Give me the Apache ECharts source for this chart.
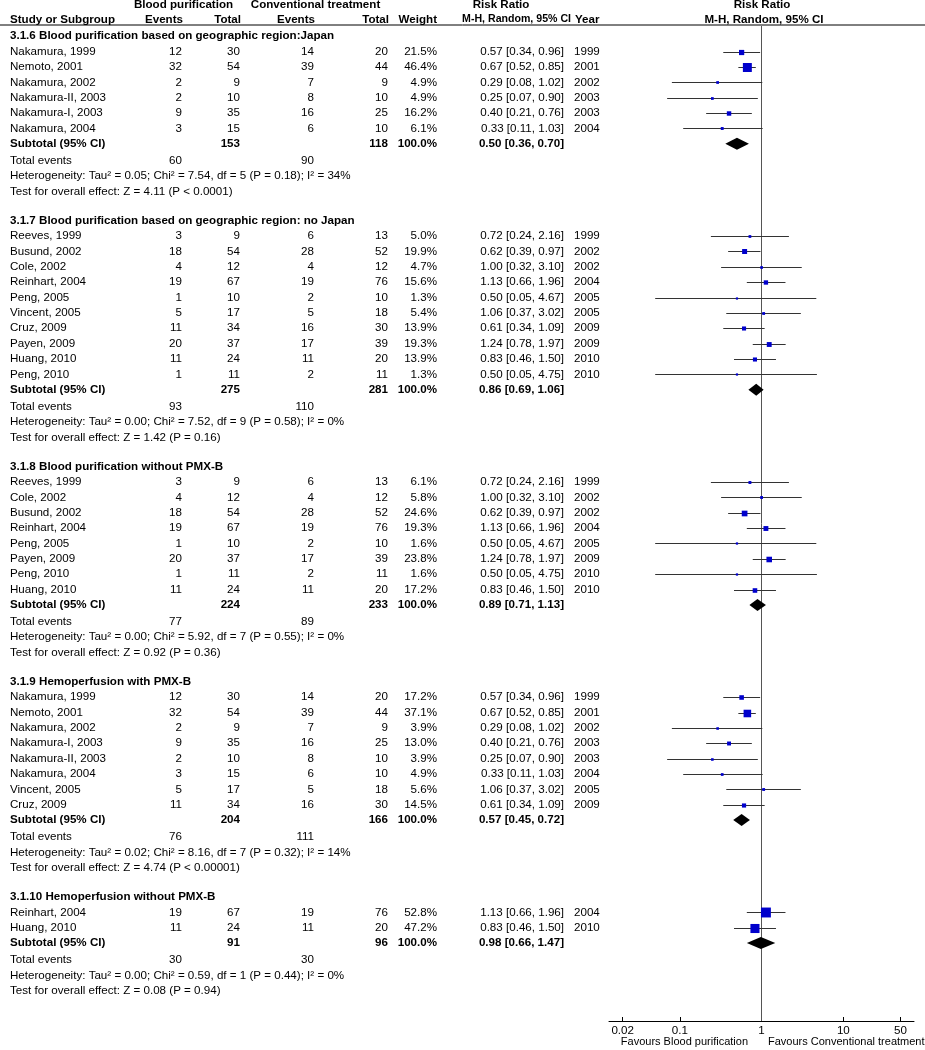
<!DOCTYPE html>
<html><head><meta charset="utf-8">
<script src="https://cdn.jsdelivr.net/npm/echarts@6/dist/echarts.min.js"></script>
<style>html,body{margin:0;padding:0;background:#fff}#c{width:925px;height:1050px}</style>
</head><body><div id="c"></div>
<script>
// ---------------- DATA ----------------
const groupTitles = [
  '3.1.6 Blood purification based on geographic region:Japan',
  '3.1.7 Blood purification based on geographic region: no Japan',
  '3.1.8 Blood purification without PMX-B',
  '3.1.9 Hemoperfusion with PMX-B',
  '3.1.10 Hemoperfusion without PMX-B'
];
const studyGroup = [0,0,0,0,0,0, 1,1,1,1,1,1,1,1,1,1, 2,2,2,2,2,2,2,2, 3,3,3,3,3,3,3,3, 4,4];
const studyNames = [
  'Nakamura, 1999','Nemoto, 2001','Nakamura, 2002','Nakamura-II, 2003','Nakamura-I, 2003','Nakamura, 2004',
  'Reeves, 1999','Busund, 2002','Cole, 2002','Reinhart, 2004','Peng, 2005','Vincent, 2005','Cruz, 2009','Payen, 2009','Huang, 2010','Peng, 2010',
  'Reeves, 1999','Cole, 2002','Busund, 2002','Reinhart, 2004','Peng, 2005','Payen, 2009','Peng, 2010','Huang, 2010',
  'Nakamura, 1999','Nemoto, 2001','Nakamura, 2002','Nakamura-I, 2003','Nakamura-II, 2003','Nakamura, 2004','Vincent, 2005','Cruz, 2009',
  'Reinhart, 2004','Huang, 2010'
];
const bpEvents = [12,32,2,2,9,3, 3,18,4,19,1,5,11,20,11,1, 3,4,18,19,1,20,1,11, 12,32,2,9,2,3,5,11, 19,11];
const bpTotal  = [30,54,9,10,35,15, 9,54,12,67,10,17,34,37,24,11, 9,12,54,67,10,37,11,24, 30,54,9,35,10,15,17,34, 67,24];
const ctEvents = [14,39,7,8,16,6, 6,28,4,19,2,5,16,17,11,2, 6,4,28,19,2,17,2,11, 14,39,7,16,8,6,5,16, 19,11];
const ctTotal  = [20,44,9,10,25,10, 13,52,12,76,10,18,30,39,20,11, 13,12,52,76,10,39,11,20, 20,44,9,25,10,10,18,30, 76,20];
const weights  = [21.5,46.4,4.9,4.9,16.2,6.1, 5.0,19.9,4.7,15.6,1.3,5.4,13.9,19.3,13.9,1.3, 6.1,5.8,24.6,19.3,1.6,23.8,1.6,17.2, 17.2,37.1,3.9,13.0,3.9,4.9,5.6,14.5, 52.8,47.2];
const riskRatio= [0.57,0.67,0.29,0.25,0.40,0.33, 0.72,0.62,1.00,1.13,0.50,1.06,0.61,1.24,0.83,0.50, 0.72,1.00,0.62,1.13,0.50,1.24,0.50,0.83, 0.57,0.67,0.29,0.40,0.25,0.33,1.06,0.61, 1.13,0.83];
const ciLow    = [0.34,0.52,0.08,0.07,0.21,0.11, 0.24,0.39,0.32,0.66,0.05,0.37,0.34,0.78,0.46,0.05, 0.24,0.32,0.39,0.66,0.05,0.78,0.05,0.46, 0.34,0.52,0.08,0.21,0.07,0.11,0.37,0.34, 0.66,0.46];
const ciHigh   = [0.96,0.85,1.02,0.90,0.76,1.03, 2.16,0.97,3.10,1.96,4.67,3.02,1.09,1.97,1.50,4.75, 2.16,3.10,0.97,1.96,4.67,1.97,4.75,1.50, 0.96,0.85,1.02,0.76,0.90,1.03,3.02,1.09, 1.96,1.50];
const years    = [1999,2001,2002,2003,2003,2004, 1999,2002,2002,2004,2005,2005,2009,2009,2010,2010, 1999,2002,2002,2004,2005,2009,2010,2010, 1999,2001,2002,2003,2003,2004,2005,2009, 2004,2010];

const subBpTotal = [153,275,224,204,91];
const subCtTotal = [118,281,233,166,96];
const subRR   = [0.50,0.86,0.89,0.57,0.98];
const subLow  = [0.36,0.69,0.71,0.45,0.66];
const subHigh = [0.70,1.06,1.13,0.72,1.47];
const totalEventsBp = [60,93,77,76,30];
const totalEventsCt = [90,110,89,111,30];
const heterogeneity = [
  'Heterogeneity: Tau² = 0.05; Chi² = 7.54, df = 5 (P = 0.18); I² = 34%',
  'Heterogeneity: Tau² = 0.00; Chi² = 7.52, df = 9 (P = 0.58); I² = 0%',
  'Heterogeneity: Tau² = 0.00; Chi² = 5.92, df = 7 (P = 0.55); I² = 0%',
  'Heterogeneity: Tau² = 0.02; Chi² = 8.16, df = 7 (P = 0.32); I² = 14%',
  'Heterogeneity: Tau² = 0.00; Chi² = 0.59, df = 1 (P = 0.44); I² = 0%'
];
const overallTest = [
  'Test for overall effect: Z = 4.11 (P < 0.0001)',
  'Test for overall effect: Z = 1.42 (P = 0.16)',
  'Test for overall effect: Z = 0.92 (P = 0.36)',
  'Test for overall effect: Z = 4.74 (P < 0.00001)',
  'Test for overall effect: Z = 0.08 (P = 0.94)'
];
const tickValues = [0.02, 0.1, 1, 10, 50];
const tickLabels = ['0.02', '0.1', '1', '10', '50'];

// ---------------- LAYOUT ----------------
const FF = "'Liberation Sans', Arial, Helvetica, sans-serif";
const FS = 11.6;
const fN = FS + 'px ' + FF, fB = 'bold ' + FS + 'px ' + FF;
const X = {label: 10, bpE: 182, bpT: 240, ctE: 314, ctT: 388, w: 437, rr: 564, yr: 574};
const fmt2 = v => v.toFixed(2);
const ciText = (r, l, h) => fmt2(r) + ' [' + fmt2(l) + ', ' + fmt2(h) + ']';

const textRows = [], studyMarks = [], diamondMarks = [];
let r = 0;
for (let g = 0; g < groupTitles.length; g++) {
  textRows.push({row: r, cells: [{t: groupTitles[g], x: X.label, a: 'left', b: true}]});
  r += 1;
  for (let i = 0; i < studyNames.length; i++) {
    if (studyGroup[i] !== g) continue;
    textRows.push({row: r, cells: [
      {t: studyNames[i], x: X.label, a: 'left'},
      {t: String(bpEvents[i]), x: X.bpE, a: 'right'},
      {t: String(bpTotal[i]), x: X.bpT, a: 'right'},
      {t: String(ctEvents[i]), x: X.ctE, a: 'right'},
      {t: String(ctTotal[i]), x: X.ctT, a: 'right'},
      {t: weights[i].toFixed(1) + '%', x: X.w, a: 'right'},
      {t: ciText(riskRatio[i], ciLow[i], ciHigh[i]), x: X.rr, a: 'right'},
      {t: String(years[i]), x: X.yr, a: 'left'}
    ]});
    studyMarks.push([Math.log10(riskRatio[i]), r, Math.log10(ciLow[i]), Math.log10(ciHigh[i]), weights[i]]);
    r += 1;
  }
  textRows.push({row: r, cells: [
    {t: 'Subtotal (95% CI)', x: X.label, a: 'left', b: true},
    {t: String(subBpTotal[g]), x: X.bpT, a: 'right', b: true},
    {t: String(subCtTotal[g]), x: X.ctT, a: 'right', b: true},
    {t: '100.0%', x: X.w, a: 'right', b: true},
    {t: ciText(subRR[g], subLow[g], subHigh[g]), x: X.rr, a: 'right', b: true}
  ]});
  diamondMarks.push([Math.log10(subRR[g]), r, Math.log10(subLow[g]), Math.log10(subHigh[g])]);
  r += 1.1;
  textRows.push({row: r, cells: [
    {t: 'Total events', x: X.label, a: 'left'},
    {t: String(totalEventsBp[g]), x: X.bpE, a: 'right'},
    {t: String(totalEventsCt[g]), x: X.ctE, a: 'right'}
  ]});
  r += 1;
  textRows.push({row: r, cells: [{t: heterogeneity[g], x: X.label, a: 'left'}]});
  r += 1;
  textRows.push({row: r, cells: [{t: overallTest[g], x: X.label, a: 'left'}]});
  r += 1.9;
}

const tickLogs = tickValues.map(v => Math.log10(v));

const chart = echarts.init(document.getElementById('c'), null, {renderer: 'canvas'});
const txt = (x, y, t, align, font) => ({type: 'text', x: x, y: y, silent: true,
  style: {text: t, align: align, verticalAlign: 'middle', textAlign: align, textVerticalAlign: 'middle', font: font, fill: '#000'}});

chart.setOption({
  animation: false,
  backgroundColor: '#fff',
  grid: {left: 609, right: 11, top: 26, bottom: 29, containLabel: false},
  xAxis: {
    type: 'value', min: -1.866, max: 1.864,
    splitLine: {show: false},
    axisLine: {show: true, onZero: false, lineStyle: {color: '#000', width: 1}},
    axisTick: {show: true, customValues: tickLogs, inside: true, length: 4, lineStyle: {color: '#000'}},
    axisLabel: {show: true, customValues: tickLogs, margin: 4, color: '#000', fontSize: FS, fontFamily: FF,
      formatter: v => { const k = tickLogs.findIndex(t => Math.abs(t - v) < 1e-6); return k >= 0 ? tickLabels[k] : ''; }}
  },
  yAxis: {type: 'value', inverse: true, min: -0.664, max: 64.07, show: false},
  graphic: [
    {type: 'line', silent: true, shape: {x1: 0, y1: 25, x2: 925, y2: 25}, style: {stroke: '#000', lineWidth: 1}},
    txt(183.5, 5, 'Blood purification', 'center', fB),
    txt(315.5, 5, 'Conventional treatment', 'center', fB),
    txt(501, 5, 'Risk Ratio', 'center', fB),
    txt(762, 5, 'Risk Ratio', 'center', fB),
    txt(10, 19.5, 'Study or Subgroup', 'left', fB),
    txt(183, 19.5, 'Events', 'right', fB),
    txt(241, 19.5, 'Total', 'right', fB),
    txt(315, 19.5, 'Events', 'right', fB),
    txt(389, 19.5, 'Total', 'right', fB),
    txt(437, 19.5, 'Weight', 'right', fB),
    txt(571, 19.5, 'M-H, Random, 95% CI', 'right', 'bold 10.6px ' + FF),
    txt(575, 19.5, 'Year', 'left', fB),
    txt(764, 19.5, 'M-H, Random, 95% CI', 'center', fB),
    txt(748, 1042, 'Favours Blood purification', 'right', '11px ' + FF),
    txt(768, 1042, 'Favours Conventional treatment', 'left', '11px ' + FF)
  ],
  series: [
    {
      type: 'custom', name: 'table', silent: true, clip: false, z: 2,
      data: textRows.map(t => [0, t.row]),
      renderItem: (params, api) => {
        const info = textRows[params.dataIndex];
        const y = api.coord([0, api.value(1)])[1];
        return {type: 'group', children: info.cells.map(c => ({
          type: 'text',
          style: {text: c.t, x: c.x, y: y, align: c.a, verticalAlign: 'middle', textAlign: c.a, textVerticalAlign: 'middle', font: c.b ? fB : fN, fill: '#000'}
        }))};
      }
    },
    {
      type: 'custom', name: 'studies', silent: true, clip: false, z: 3,
      data: studyMarks,
      renderItem: (params, api) => {
        const yv = api.value(1);
        const c = api.coord([api.value(0), yv]);
        const l = api.coord([api.value(2), yv]);
        const h = api.coord([api.value(3), yv]);
        const s = 2 + 0.15 * api.value(4);
        const yy = Math.round(c[1]) + 0.5;
        return {type: 'group', children: [
          {type: 'line', shape: {x1: l[0], y1: yy, x2: h[0], y2: yy}, style: {stroke: '#333', lineWidth: 1}},
          {type: 'rect', shape: {x: c[0] - s / 2, y: yy - s / 2, width: s, height: s}, style: {fill: '#0000CC'}}
        ]};
      },
      markLine: {
        silent: true, symbol: 'none', label: {show: false}, z: 1,
        lineStyle: {color: '#555', type: 'solid', width: 1},
        data: [{xAxis: 0}]
      }
    },
    {
      type: 'custom', name: 'subtotals', silent: true, clip: false, z: 6,
      data: diamondMarks,
      renderItem: (params, api) => {
        const yv = api.value(1);
        const c = api.coord([api.value(0), yv]);
        const l = api.coord([api.value(2), yv]);
        const h = api.coord([api.value(3), yv]);
        return {type: 'polygon', z2: 10, shape: {points: [[l[0], c[1]], [c[0], c[1] - 6], [h[0], c[1]], [c[0], c[1] + 6]]}, style: {fill: '#000'}};
      }
    }
  ]
});
</script>
</body></html>
